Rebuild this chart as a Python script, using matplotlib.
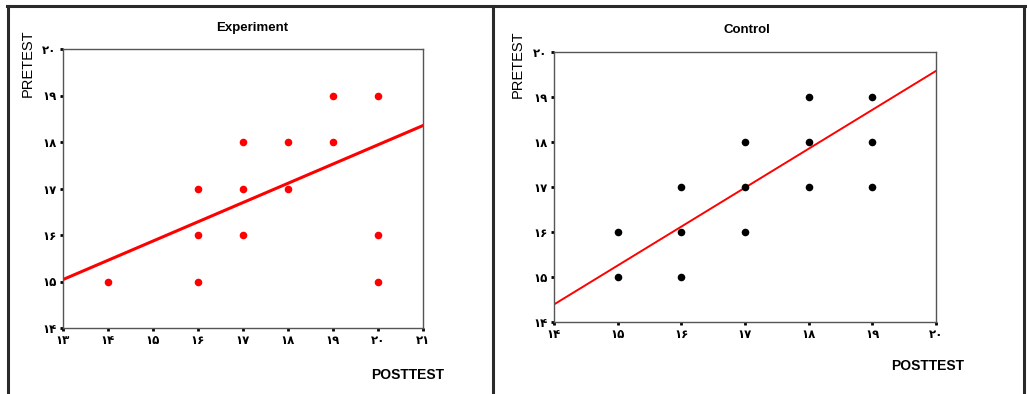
import matplotlib
matplotlib.use('Agg')
import matplotlib.pyplot as plt
from matplotlib.lines import Line2D
import numpy as np

# Experiment group
exp_post = [14, 16, 16, 16, 17, 17, 17, 18, 18, 19, 19, 20, 20, 20]
exp_pre = [15, 15, 16, 17, 16, 17, 18, 17, 18, 18, 19, 19, 16, 15]
exp_fit = (0.414, 9.66)   # slope, intercept

# Control group
ctl_post = [15, 15, 16, 16, 16, 17, 17, 17, 18, 18, 18, 19, 19, 19]
ctl_pre = [15, 16, 15, 16, 17, 16, 17, 18, 17, 18, 19, 17, 18, 19]
ctl_fit = (0.865, 2.28)

exp_xticks = [13, 14, 15, 16, 17, 18, 19, 20, 21]
ctl_xticks = [14, 15, 16, 17, 18, 19, 20]
yticks = [14, 15, 16, 17, 18, 19, 20]

W, H = 1027, 394


def fa(n):
    # persian digits
    return str(n).translate(str.maketrans('0123456789', '۰۱۲۳۴۵۶۷۸۹'))


def box(l, t, r, b):
    return [l / W, 1 - b / H, (r - l) / W, (b - t) / H]


fig = plt.figure(figsize=(W / 100, H / 100), dpi=100)
fig.patch.set_facecolor('white')


def panel(rect, xs, ys, fit, xticks, color, lw, title, tx, ty, px, py, ylx, yly):
    ax = fig.add_axes(box(*rect))
    ax.scatter(xs, ys, s=30, color=color, zorder=3, linewidths=0)
    x0, x1 = xticks[0], xticks[-1]
    xx = np.array([x0, x1])
    ax.plot(xx, fit[0] * xx + fit[1], color='#ff0000', lw=lw, zorder=2)
    ax.set_xlim(x0, x1)
    ax.set_ylim(14, 20)
    ax.set_xticks(xticks)
    ax.set_xticklabels([fa(v) for v in xticks])
    ax.set_yticks(yticks)
    ax.set_yticklabels([fa(v) for v in yticks])
    ax.tick_params(length=2.5, width=2, color='black', pad=2, labelsize=8.5)
    for lab in ax.get_xticklabels() + ax.get_yticklabels():
        lab.set_fontweight('bold')
        lab.set_family('DejaVu Sans')
    for s in ax.spines.values():
        s.set_color('#555555')
        s.set_linewidth(1)
    fig.text(tx / W, 1 - ty / H, title, ha='center', va='center',
             fontsize=9.5, fontweight='bold', family='Liberation Sans')
    fig.text(px / W, 1 - py / H, 'POSTTEST', ha='center', va='center',
             fontsize=10, fontweight='bold', family='Liberation Sans')
    fig.text(ylx / W, 1 - yly / H, 'PRETEST', ha='center', va='center',
             rotation=90, fontsize=10.5, family='Liberation Sans')
    return ax


panel((63, 49, 423, 328), exp_post, exp_pre, exp_fit, exp_xticks, '#ff0000', 2.2,
      'Experiment', 252, 28, 408, 375, 28, 63)
panel((554, 52, 936, 322), ctl_post, ctl_pre, ctl_fit, ctl_xticks, 'black', 1.4,
      'Control', 747, 30, 928, 366, 518, 64)

# frames around the two panels
frame = dict(color='#2a2a2a', lw=2.2, transform=fig.transFigure)
fig.add_artist(Line2D([7 / W, 1025 / W], [1 - 6 / H, 1 - 6 / H], **frame))
for xp in (8, 493, 1024):
    fig.add_artist(Line2D([xp / W, xp / W], [0, 1 - 6 / H], **frame))

plt.savefig('out.png', dpi=100)
